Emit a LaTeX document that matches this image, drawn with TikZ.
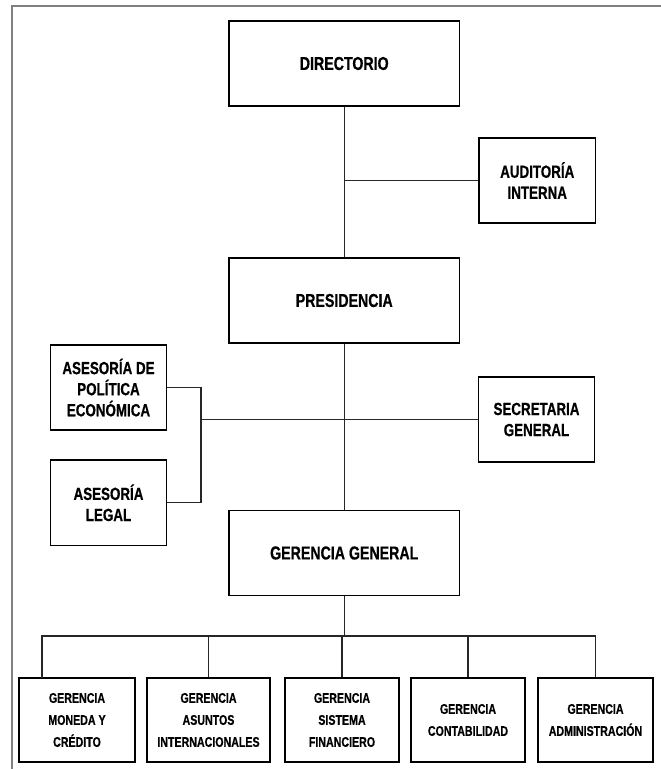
\documentclass[tikz,border=0pt]{standalone}
\usepackage{fontspec}
\setmainfont{Liberation Sans}[FakeStretch=0.76,BoldFeatures={FakeBold=0.6}]
\begin{document}
\begin{tikzpicture}[x=0.75pt,y=-0.75pt,
  box/.style={draw=black,line width=1.1pt,rectangle,inner sep=0pt,align=center,text=black},
  bigbox/.style={box,minimum width=172.9pt,minimum height=64pt,font=\bfseries\fontsize{14}{17}\selectfont},
  midbox/.style={box,minimum width=87.2pt,minimum height=64pt,font=\bfseries\fontsize{13.2}{15.8}\selectfont},
  lowbox/.style={box,minimum height=63pt,font=\bfseries\fontsize{10.5}{16.5}\selectfont},
  link/.style={draw=black!85,line width=1.1pt},
  frame/.style={draw=black!50,line width=1.5pt}]
\useasboundingbox (0,0) rectangle (661,769);
\draw[frame] (12,769) -- (12,6) -- (661,6);

\node[bigbox] (dir) at (344.25,63.5) {DIRECTORIO};
\node[midbox] (aud) at (537.25,180.5) {AUDITORÍA\\INTERNA};
\node[bigbox] (pres) at (344.25,300.5) {PRESIDENCIA};
\node[midbox] (pol) at (108.5,387.5) {ASESORÍA DE\\POLÍTICA\\ECONÓMICA};
\node[midbox] (sec) at (536.5,419.5) {SECRETARIA\\GENERAL};
\node[midbox] (leg) at (108.5,502.75) {ASESORÍA\\LEGAL};
\node[bigbox] (gg) at (344.25,553) {GERENCIA GENERAL};

\node[lowbox,minimum width=87pt] (b1) at (77,720) {GERENCIA\\MONEDA Y\\CRÉDITO};
\node[lowbox,minimum width=92.25pt] (b2) at (208.5,720) {GERENCIA\\ASUNTOS\\INTERNACIONALES};
\node[lowbox,minimum width=85.5pt] (b3) at (342,720) {GERENCIA\\SISTEMA\\FINANCIERO};
\node[lowbox,minimum width=85.5pt] (b4) at (468,720) {GERENCIA\\CONTABILIDAD};
\node[lowbox,minimum width=86.25pt] (b5) at (595.5,720) {GERENCIA\\ADMINISTRACIÓN};

\coordinate (brx) at (201,0);
\coordinate (bus) at (344,636);
\coordinate (d1) at (42,678);

% trunk
\draw[link] (dir.south) -- (pres.north);
\draw[link] (pres.south) -- (gg.north);
\draw[link] (aud.west) -- (aud.west -| dir.south);
% advisors bracket
\draw[link] (pol.east) -| (brx |- leg.east) -- (leg.east);
\draw[link] (sec.west) -- (sec.west -| brx);
% bottom bus
\draw[link] (gg.south) -- (gg.south |- bus);
\draw[link] (d1) -- (d1 |- bus) -- (b5.north |- bus) -- (b5.north);
\draw[link] (b2.north) -- (b2.north |- bus);
\draw[link] (b3.north) -- (b3.north |- bus);
\draw[link] (b4.north) -- (b4.north |- bus);
\end{tikzpicture}
\end{document}
